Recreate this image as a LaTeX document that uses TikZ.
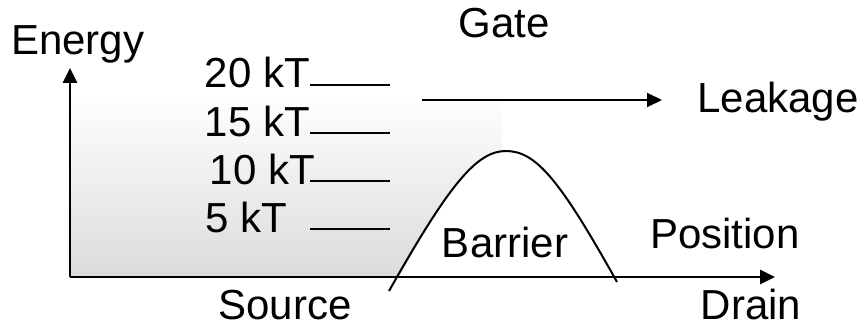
\documentclass[tikz,border=0pt]{standalone}
\usepackage{fontspec}
\setmainfont{Liberation Sans}
\usetikzlibrary{arrows.meta}
\begin{document}
\begin{tikzpicture}[x=1pt,y=-1pt,
  lbl/.style={font=\fontsize{42}{50}\selectfont, inner sep=0pt},
  axis/.style={line width=2.6pt, -{Triangle[length=15pt,width=14pt]}},
  lvl/.style={line width=2pt},
  curve/.style={line width=2pt}]
\useasboundingbox (0,0) rectangle (863,329);
% gradient background
\shade[top color=white, bottom color=black!14] (70,93) rectangle (502,277);
% barrier
\coordinate (b0) at (389,291);
\coordinate (bp) at (506,151);
\coordinate (b1) at (617,282);
\fill[white] (399,277) .. controls (452,183) and (477,151) .. (bp) .. controls (536,151) and (558,180) .. (615,277) -- cycle;
\draw[curve] (b0) .. controls (450,183) and (477,151) .. (bp) .. controls (536,151) and (560,180) .. (b1);
% axes
\coordinate (o) at (70,277);
\coordinate (ytip) at (70,68);
\coordinate (xtip) at (775,277);
\draw[axis] (o) -- (ytip);
\draw[axis] (o) -- (xtip);
% levels
\foreach \n/\y in {l20/85, l15/133, l10/181, l5/229}{
  \coordinate (\n a) at (310,\y);
  \coordinate (\n b) at (390,\y);
  \draw[lvl] (\n a) -- (\n b);
}
% leakage arrow
\coordinate (la) at (422,100);
\coordinate (lb) at (662,100);
\draw[lvl, -{Triangle[length=15pt,width=14pt]}] (la) -- (lb);
% labels
\node[lbl, anchor=base west] (energy) at (11,55) {Energy};
\node[lbl, anchor=base] (gate) at (504,38) {Gate};
\node[lbl, anchor=base east] (t20) at (310,88) {20 kT};
\node[lbl, anchor=base east] (t15) at (310,136) {15 kT};
\node[lbl, anchor=base east] (t10) at (315,184) {10 kT};
\node[lbl, anchor=base west] (t5) at (205,232) {5 kT};
\node[lbl, anchor=base] (leak) at (778,113) {Leakage};
\node[lbl, anchor=base] (barrier) at (505,257) {Barrier};
\node[lbl, anchor=base] (pos) at (725,248) {Position};
\node[lbl, anchor=base] (source) at (285,319) {Source};
\node[lbl, anchor=base] (drain) at (751,319) {Drain};
\end{tikzpicture}
\end{document}
